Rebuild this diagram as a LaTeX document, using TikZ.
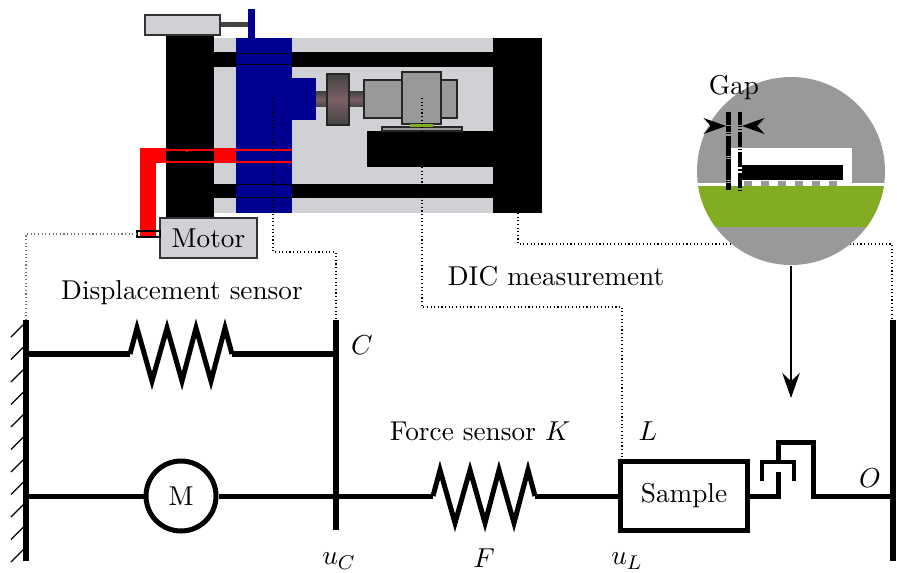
\documentclass[tikz,border=0pt]{standalone}
\usepackage{amsmath}
\usetikzlibrary{arrows.meta,positioning}
\definecolor{frame}{HTML}{D0D1D5}
\definecolor{rail}{HTML}{000091}
\definecolor{board}{HTML}{82AC21}
\definecolor{part}{HTML}{999999}
\definecolor{dark}{HTML}{444444}
\definecolor{glow}{HTML}{7A6065}

\begin{document}
\begin{tikzpicture}[
  x=0.4pt, y=-0.4pt,
  font=\fontsize{10.9}{13}\selectfont,
  part box/.style={fill=part, draw=black!85, line width=0.5pt},
  grey box/.style={fill=frame, draw=black!80, line width=0.5pt},
  wall/.style={line width=2.3pt},
  wire/.style={line width=2pt},
  coil/.style={line width=2pt, miter limit=10},
  measure/.style={densely dotted, line width=0.45pt},
  redline/.style={draw=red, line width=0.5pt},
  label/.style={inner sep=0pt}
]
\useasboundingbox (0,0) rectangle (897,572);

\fill[frame] (214,38) rectangle (493,213);
\fill[black] (214,52) rectangle (493,67);
\fill[black] (214,184) rectangle (493,198);
\fill[black] (166,35) rectangle (214,218);
\fill[black] (493,38) rectangle (542,213);
\fill[black] (367,131) rectangle (493,167);
\fill[rail] (236,38) rectangle (292,213);
\fill[rail] (292,78) rectangle (316,120);
\fill[rail] (248,9) rectangle (255,38);
\draw[black, line width=0.4pt] (236,53.5) -- (292,53.5) (236,65) -- (292,65);
\draw[black, line width=0.4pt] (236,185) -- (292,185) (236,198) -- (292,198);

\fill[red] (140,148) rectangle (166,163);
\fill[red] (140,148) rectangle (156,237);
\fill[red] (214,148) rectangle (236,163);
\draw[redline] (166,150) -- (292,150) (166,162) -- (292,162);
\draw[redline] (187,150) -- (187,152);

\fill[dark] (220,22) rectangle (248,27);
\node[grey box, minimum width=30pt, minimum height=8pt, inner sep=0pt] (sensorbox) at (182.5,25) {};

\shade[top color=dark, bottom color=dark, middle color=glow] (316,92) rectangle (364,107);
\shade[top color=dark, bottom color=dark, middle color=glow, draw=black!85, line width=0.5pt] (327,74) rectangle (349,125);
\draw[part box] (364,80) rectangle (402,118);
\draw[part box] (441,80) rectangle (457,118);
\draw[part box] (402,72) rectangle (441,124);
\draw[part box] (382,127) rectangle (462,131);
\fill[board] (410,124) rectangle (433,127);

\node[grey box, minimum width=38.8pt, minimum height=16pt, inner sep=0pt] (motor) at (208.5,238) {Motor};
\draw[black, line width=0.5pt] (137,231) rectangle (160,237);

\draw[measure] (518,213) -- (518,244) -- (892,244) -- (892,320);
\fill[part] (791,171) circle (94);
\begin{scope}
  \clip (791,171) circle (94);
  \fill[white] (690,183) rectangle (890,186);
  \fill[board] (690,186) rectangle (890,227);
\end{scope}
\fill[white] (731,148) rectangle (852,183);
\fill[black] (742,165) rectangle (843,180);
\foreach \ballx in {744,761,778,795,812,829}
  \fill[part] (\ballx,181) rectangle ++(8,5);
\draw[line width=2pt, black, dash pattern=on 8pt off 0.5pt on 0.5pt off 0.5pt] (728.5,112) -- (728.5,190);
\draw[line width=1.4pt, black, dash pattern=on 6pt off 0.8pt on 0.5pt off 0.8pt] (740,112) -- (740,190);
\coordinate (gapL) at (726,126);
\coordinate (gapR) at (742,126);
\draw[part, line width=0.4pt] (gapL) -- (gapR);
\draw[{Stealth[length=9pt,width=6.4pt]}-, black, line width=0.4pt] (gapL) -- ++(-4,0);
\draw[{Stealth[length=9pt,width=6.4pt]}-, black, line width=0.4pt] (gapR) -- ++(4,0);
\node[label] (gap) at (734,88) {Gap};
\node[draw=none, circle, minimum size=75.2pt, inner sep=0pt] (lens) at (791,171) {};

\coordinate (wallA) at (26,320);
\coordinate (wallB) at (26,561);
\coordinate (wallC) at (336,320);
\coordinate (wallD) at (336,530);
\coordinate (wallO) at (893,320);
\coordinate (wallP) at (893,561);
\draw[wall] (wallA) -- (wallB);
\draw[wall] (wallC) -- (wallD);
\draw[wall] (wallO) -- (wallP);
\foreach \i in {0,...,10}
  \draw[line width=0.5pt] (26,322+22.5*\i) -- ++(-15,15);

\draw[wire, line width=2.5pt] (26,354) -- (130,354) (232,354) -- (336,354);
\draw[coil] (130,354) -- (137,328) -- (152,381) -- (167,328) -- (182,381) -- (196,328) -- (211,381) -- (225,328) -- (232,354);

\node[draw, circle, line width=2pt, minimum size=28pt, inner sep=0pt] (drive) at (181,496) {M};
\draw[wire] (26,496) -- (drive) -- (336,496);

\node[draw, line width=2pt, minimum width=50.8pt, minimum height=27.6pt, inner sep=0pt] (sample) at (684,496) {Sample};
\draw[wire] (336,496) -- (433,496);
\draw[coil] (433,496) -- (440,470) -- (455,523) -- (470,470) -- (485,523) -- (499,470) -- (514,523) -- (528,470) -- (535,496);
\draw[wire] (535,496) -- (sample.west);

\draw[wire, miter limit=10] (sample.east) -- (778,496) -- (778,472);
\draw[line width=1.6pt] (762,481) -- (762,462) -- (794,462) -- (794,481);
\draw[wire] (778,462) -- (778,442) -- (813,442) -- (813,496) -- (wallO|-sample);

\draw[-{Stealth[length=10pt,width=7pt]}, line width=0.5pt] (lens.south) -- (791,398);

\draw[measure, black!55] (137,234) -- (26,234) -- (wallA);
\draw[measure] (273,98) -- (273,252) -- (336,252) -- (wallC);
\draw[measure] (422,98) -- (422,307) -- (622,307) -- (622,460);

\node[label] (dispname) at (182,293) {Displacement sensor};
\node[label] (dicname) at (556,276) {DIC measurement};
\node[label] (forcename) at (480,431) {Force sensor $K$};
\node[label] (labC) at (362,345) {$C$};
\node[label] (labL) at (648,431) {$L$};
\node[label] (labO) at (870,478) {$O$};
\node[label] (labuC) at (339,561) {$u_C$};
\node[label] (labF) at (484,558) {$F$};
\node[label] (labuL) at (627,561) {$u_L$};
\end{tikzpicture}
\end{document}
